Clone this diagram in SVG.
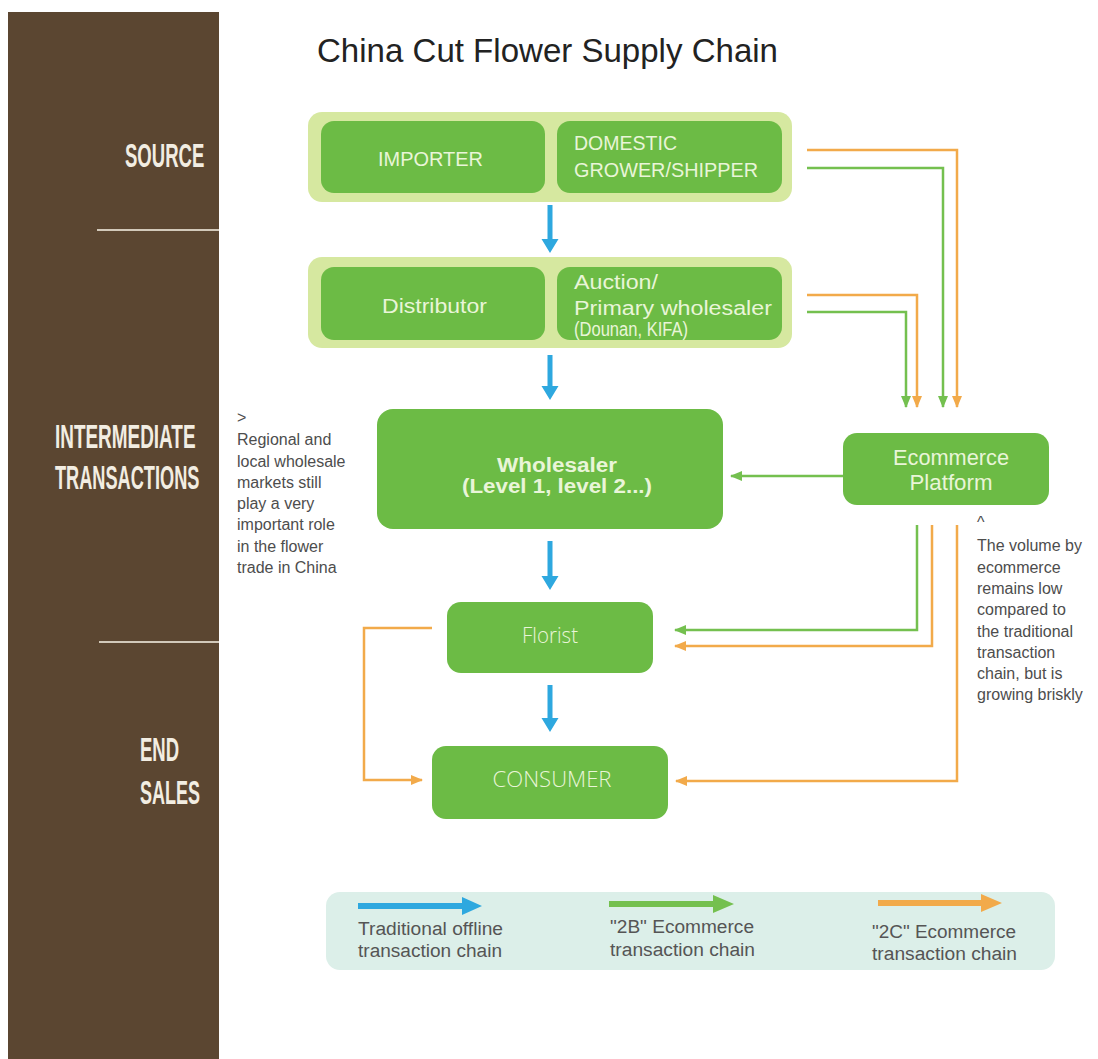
<svg xmlns="http://www.w3.org/2000/svg" width="1098" height="1059" viewBox="0 0 1098 1059">
<style>
.side{font-family:"Liberation Sans",Arial,sans-serif;fill:#f2ede2;font-size:34px;font-weight:bold}
.outer{fill:#d6e8a0}
.box{fill:#6cbb45}
.bt{font-family:"Liberation Sans",Arial,sans-serif;fill:#e9f5d8;font-size:20px}
.lt{font-family:"Open Sans","Liberation Sans",sans-serif;font-weight:300;fill:#e9f5d8;font-size:22px}
.et{font-family:"Liberation Sans",Arial,sans-serif;fill:#e9f5d8;font-size:22px}
.note{font-family:"Liberation Sans",Arial,sans-serif;fill:#4d4d4d;font-size:16px}
.leg{font-family:"Liberation Sans",Arial,sans-serif;fill:#555;font-size:18px}
.g{fill:none;stroke:#74c04f;stroke-width:2.5}
.o{fill:none;stroke:#f2aa4a;stroke-width:2.5}
.blue{fill:#2ea8df}
</style>
<defs>
<marker id="mg" markerUnits="userSpaceOnUse" markerWidth="12" markerHeight="12" viewBox="0 0 12 12" refX="11" refY="6" orient="auto"><path d="M0,1 L12,6 L0,11 Z" fill="#74c04f"/></marker>
<marker id="mo" markerUnits="userSpaceOnUse" markerWidth="12" markerHeight="12" viewBox="0 0 12 12" refX="11" refY="6" orient="auto"><path d="M0,1 L12,6 L0,11 Z" fill="#f2aa4a"/></marker>
</defs>
<rect width="1098" height="1059" fill="#ffffff"/>

<g id="side-panel">
<rect x="8" y="12" width="211" height="1047" fill="#5b4631"/>
<line x1="97" y1="230" x2="219" y2="230" stroke="#d2c9ba" stroke-width="2"/>
<line x1="99" y1="642" x2="219" y2="642" stroke="#d2c9ba" stroke-width="2"/>
<text class="side" transform="translate(125,167) scale(0.545,1)">SOURCE</text>
<text class="side" transform="translate(55,448) scale(0.557,1)">INTERMEDIATE</text>
<text class="side" transform="translate(55,489) scale(0.535,1)">TRANSACTIONS</text>
<text class="side" transform="translate(140,761) scale(0.545,1)">END</text>
<text class="side" transform="translate(140,804) scale(0.53,1)">SALES</text>
</g>

<text x="317" y="62" font-family="Liberation Sans,Arial,sans-serif" font-size="33" fill="#222" textLength="461" lengthAdjust="spacingAndGlyphs">China Cut Flower Supply Chain</text>

<g id="source-group">
<rect class="outer" x="308" y="112" width="484" height="90" rx="14"/>
</g>
<g id="importer">
<rect class="box" x="321" y="121" width="224" height="72" rx="13"/>
<text class="bt" x="378" y="166" textLength="105" lengthAdjust="spacingAndGlyphs">IMPORTER</text>
</g>
<g id="domestic">
<rect class="box" x="557" y="121" width="225" height="72" rx="13"/>
<text class="bt" x="574" y="150" textLength="103" lengthAdjust="spacingAndGlyphs">DOMESTIC</text>
<text class="bt" x="574" y="177" textLength="184" lengthAdjust="spacingAndGlyphs">GROWER/SHIPPER</text>
</g>

<g id="intermediate-group">
<rect class="outer" x="308" y="257" width="484" height="91" rx="14"/>
</g>
<g id="distributor">
<rect class="box" x="321" y="267" width="224" height="73" rx="13"/>
<text class="bt" x="382" y="313" textLength="105" lengthAdjust="spacingAndGlyphs">Distributor</text>
</g>
<g id="auction">
<rect class="box" x="557" y="267" width="225" height="73" rx="13"/>
<text class="bt" x="574" y="289" textLength="84" lengthAdjust="spacingAndGlyphs">Auction/</text>
<text class="bt" x="574" y="315" textLength="198" lengthAdjust="spacingAndGlyphs">Primary wholesaler</text>
<text class="bt" x="574" y="336" font-size="12" textLength="114" lengthAdjust="spacingAndGlyphs">(Dounan, KIFA)</text>
</g>

<g id="wholesaler">
<rect class="box" x="377" y="409" width="346" height="120" rx="16"/>
<text class="bt" x="557" y="472" font-size="21" font-weight="bold" text-anchor="middle" textLength="120" lengthAdjust="spacingAndGlyphs">Wholesaler</text>
<text class="bt" x="557" y="493" font-size="21" font-weight="bold" text-anchor="middle" textLength="190" lengthAdjust="spacingAndGlyphs">(Level 1, level 2...)</text>
</g>

<g id="ecommerce">
<rect class="box" x="843" y="433" width="206" height="72" rx="14"/>
<text class="et" x="951" y="465" text-anchor="middle" textLength="116" lengthAdjust="spacingAndGlyphs">Ecommerce</text>
<text class="et" x="951" y="490" text-anchor="middle" textLength="83" lengthAdjust="spacingAndGlyphs">Platform</text>
</g>

<g id="florist">
<rect class="box" x="447" y="602" width="206" height="71" rx="14"/>
<text class="lt" x="550" y="643" text-anchor="middle" textLength="56" lengthAdjust="spacingAndGlyphs">Florist</text>
</g>

<g id="consumer">
<rect class="box" x="432" y="746" width="236" height="73" rx="14"/>
<text class="lt" x="552" y="787" text-anchor="middle" textLength="119" lengthAdjust="spacingAndGlyphs">CONSUMER</text>
</g>

<g id="note-left">
<text class="note" x="237" y="423" font-size="12">&gt;</text>
<text class="note" x="237" y="445">Regional and</text>
<text class="note" x="237" y="467">local wholesale</text>
<text class="note" x="237" y="488">markets still</text>
<text class="note" x="237" y="509">play a very</text>
<text class="note" x="237" y="530">important role</text>
<text class="note" x="237" y="552">in the flower</text>
<text class="note" x="237" y="573">trade in China</text>
</g>

<g id="note-right">
<text class="note" x="977" y="528" font-size="12">^</text>
<text class="note" x="977" y="551">The volume by</text>
<text class="note" x="977" y="573">ecommerce</text>
<text class="note" x="977" y="594">remains low</text>
<text class="note" x="977" y="615">compared to</text>
<text class="note" x="977" y="637">the traditional</text>
<text class="note" x="977" y="658">transaction</text>
<text class="note" x="977" y="679">chain, but is</text>
<text class="note" x="977" y="700">growing briskly</text>
</g>

<g id="connectors">
<path class="blue" d="M547.5,205 h5 v34 h6 l-8.5,14 l-8.5,-14 h6 z"/>
<path class="blue" d="M547.5,355 h5 v31 h6 l-8.5,14 l-8.5,-14 h6 z"/>
<path class="blue" d="M547.5,541 h5 v35 h6 l-8.5,14 l-8.5,-14 h6 z"/>
<path class="blue" d="M547.5,685 h5 v33 h6 l-8.5,14 l-8.5,-14 h6 z"/>

<path class="o" d="M807,150 H957 V407" marker-end="url(#mo)"/>
<path class="g" d="M807,168 H943 V407" marker-end="url(#mg)"/>
<path class="o" d="M807,295 H917 V407" marker-end="url(#mo)"/>
<path class="g" d="M807,312 H906 V407" marker-end="url(#mg)"/>

<path class="g" d="M843,476 H731" marker-end="url(#mg)"/>

<path class="g" d="M917,525 V630 H675" marker-end="url(#mg)"/>
<path class="o" d="M932,525 V646 H675" marker-end="url(#mo)"/>
<path class="o" d="M957,525 V781 H676" marker-end="url(#mo)"/>

<path class="o" d="M432,628 H364 V780 H422" marker-end="url(#mo)"/>
</g>

<g id="legend">
<rect x="326" y="892" width="729" height="78" rx="14" fill="#dcefe9"/>
<path d="M358,903 H462 V897 L482,906 L462,915 V909 H358 Z" fill="#2ea8df"/>
<path d="M609,901 H713 V895 L734,904 L713,913 V907 H609 Z" fill="#74c04f"/>
<path d="M878,900 H981 V894 L1002,903 L981,912 V906 H878 Z" fill="#f2aa4a"/>
<text class="leg" x="358" y="935" textLength="145" lengthAdjust="spacingAndGlyphs">Traditional offline</text>
<text class="leg" x="358" y="957" textLength="144" lengthAdjust="spacingAndGlyphs">transaction chain</text>
<text class="leg" x="610" y="933" textLength="144" lengthAdjust="spacingAndGlyphs">"2B" Ecommerce</text>
<text class="leg" x="610" y="956" textLength="145" lengthAdjust="spacingAndGlyphs">transaction chain</text>
<text class="leg" x="872" y="938" textLength="144" lengthAdjust="spacingAndGlyphs">"2C" Ecommerce</text>
<text class="leg" x="872" y="960" textLength="145" lengthAdjust="spacingAndGlyphs">transaction chain</text>
</g>
</svg>
